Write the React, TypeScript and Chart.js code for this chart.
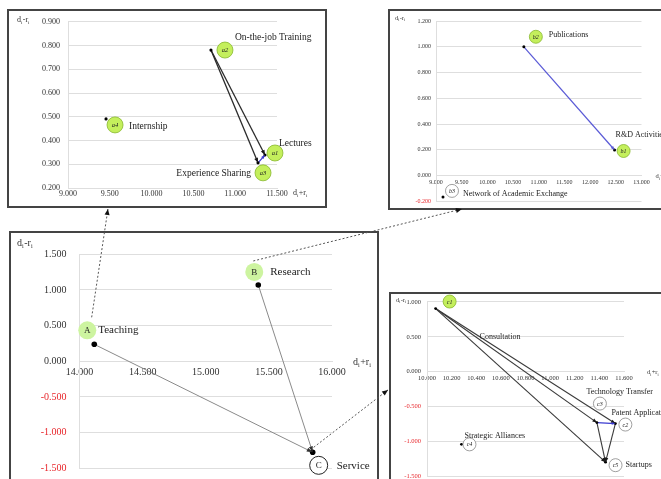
import React, { useEffect, useRef } from 'react';
import { Chart, registerables } from 'chart.js';

Chart.register(...registerables);

const FONT = "'Liberation Serif', 'Times New Roman', Times, serif";
const RED = '#e8262b';
const TICK = '#333333';
const GRID = '#dedede';

// ---------------- data ----------------
// Dimensions (main chart)
const dimCodes = ['A', 'B', 'C'];
const dimNames = ['Teaching', 'Research', 'Service'];
const dimSum = [14.117, 15.416, 15.847]; // d+r
const dimDiff = [0.238, 1.07, -1.276]; // d-r
const dimHighlight = [true, true, false];
const dimLinks = [[0, 2], [1, 2]];
const dimSumRange = [14, 16, 0.5];
const dimDiffRange = [-1.5, 1.5, 0.5];

// Teaching criteria
const teachCodes = ['a1', 'a2', 'a3', 'a4'];
const teachNames = ['Lectures', 'On-the-job Training', 'Experience Sharing', 'Internship'];
const teachSum = [11.356, 10.71, 11.273, 9.455];
const teachDiff = [0.339, 0.781, 0.306, 0.491];
const teachHighlight = [true, true, true, true];
const teachLinks = [[1, 0], [1, 2]];
const teachBlueLinks = [[2, 0]];
const teachSumRange = [9, 11.5, 0.5];
const teachDiffRange = [0.2, 0.9, 0.1];

// Research criteria
const researchCodes = ['b1', 'b2', 'b3'];
const researchNames = ['R&D Activities', 'Publications', 'Network of Academic Exchange'];
const researchSum = [12.476, 10.71, 9.136];
const researchDiff = [0.199, 1.0, -0.165];
const researchHighlight = [true, true, false];
const researchLinks: number[][] = [];
const researchBlueLinks = [[1, 0]];
const researchSumRange = [9, 13, 0.5];
const researchDiffRange = [-0.2, 1.2, 0.2];

// Service criteria
const serviceCodes = ['c1', 'c2', 'c3', 'c4', 'c5'];
const serviceNames = ['Consultation', 'Patent Application', 'Technology Transfer', 'Strategic Alliances', 'Startups'];
const serviceSum = [10.07, 11.53, 11.38, 10.28, 11.45];
const serviceDiff = [0.905, -0.742, -0.728, -1.04, -1.295];
const serviceHighlight = [true, false, false, false, false];
const serviceLinks = [[0, 2], [0, 1], [0, 4], [2, 4], [1, 4]];
const serviceBlueLinks = [[2, 1]];
const serviceSumRange = [10, 11.6, 0.2];
const serviceDiffRange = [-1.5, 1.0, 0.5];

// where the dashed connectors land on the detail panels (in their axis values)
const teachAnchorSum = 9.478;
const researchAnchorSum = 9.505;
const serviceAnchorDiff = -0.26;

// ---------------- layout / style ----------------
type Off = [number, number, number, number, string];

const TEACH = {
  key: 'teach',
  box: { left: 7, top: 9, width: 320, height: 199 },
  area: { top: 8, right: 270, bottom: 179, yWidth: 61 },
  xr: teachSumRange, yr: teachDiffRange, xAxisAt: teachDiffRange[0],
  tickSize: 8, xPad: 1, yPad: 8,
  codes: teachCodes, names: teachNames, xs: teachSum, ys: teachDiff, highlight: teachHighlight,
  links: teachLinks, blueLinks: teachBlueLinks,
  linkColor: '#2b2b2b', linkWidth: 1.3, headColor: '#1a1a1a', blueColor: '#3b3bd0', blueWidth: 1.2,
  arrowLen: 5, arrowW: 4, pointR: 1.6,
  circleR: 8, codeFont: `italic 6.5px ${FONT}`, nameFont: `9.5px ${FONT}`,
  hiFill: '#c4ef5c', hiStroke: '#86b82c', loStroke: '#888', strokeW: 0.8,
  offsets: [[10, -2, 14, -11, 'left'], [14, 0, 24, -13, 'left'], [5, 10, -7, 11, 'right'], [9, 6, 23, 8, 'left']] as Off[],
  titleSize: 8, yTitle: [10, 11], xTitle: [16, 5],
};

const RESEARCH = {
  key: 'research',
  box: { left: 388, top: 9, width: 300, height: 201 },
  area: { top: 12, right: 253.5, bottom: 194, yWidth: 48 },
  xr: researchSumRange, yr: researchDiffRange, xAxisAt: 0,
  tickSize: 6, xPad: 3, yPad: 5,
  codes: researchCodes, names: researchNames, xs: researchSum, ys: researchDiff, highlight: researchHighlight,
  links: researchLinks, blueLinks: researchBlueLinks,
  linkColor: '#2b2b2b', linkWidth: 1.2, headColor: '#1a1a1a', blueColor: '#5a5ad6', blueWidth: 1.2,
  arrowLen: 5, arrowW: 4, pointR: 1.5,
  circleR: 6.5, codeFont: `italic 6px ${FONT}`, nameFont: `8px ${FONT}`,
  hiFill: '#c4ef5c', hiStroke: '#86b82c', loStroke: '#888', strokeW: 0.8,
  offsets: [[9, 1, 1, -15, 'left'], [12, -10, 25, -12, 'left'], [9, -6, 20, -3, 'left']] as Off[],
  titleSize: 6.5, yTitle: [7, 9], xTitle: [14, 1],
};

const MAIN = {
  key: 'main',
  box: { left: 9, top: 231, width: 370, height: 260 },
  area: { top: 23.3, right: 323, bottom: 237.3, yWidth: 70.5 },
  xr: dimSumRange, yr: dimDiffRange, xAxisAt: 0,
  tickSize: 10, xPad: 5, yPad: 13,
  codes: dimCodes, names: dimNames, xs: dimSum, ys: dimDiff, highlight: dimHighlight,
  links: dimLinks, blueLinks: [] as number[][],
  linkColor: '#8a8a8a', linkWidth: 1, headColor: '#333', blueColor: '#3b3bd0', blueWidth: 1,
  arrowLen: 6, arrowW: 4, pointR: 2.8,
  circleR: 9, codeFont: `9px ${FONT}`, nameFont: `11px ${FONT}`,
  hiFill: '#cdf4a0', hiStroke: '', loStroke: '#222', strokeW: 1,
  offsets: [[-7, -14, 4, -14, 'left'], [-4, -13, 12, -13, 'left'], [6, 13, 24, 14, 'left']] as Off[],
  titleSize: 10, yTitle: [8, 12], xTitle: [21, 1],
};

const SERVICE = {
  key: 'service',
  box: { left: 389, top: 292, width: 300, height: 200 },
  area: { top: 8, right: 235, bottom: 184.5, yWidth: 38 },
  xr: serviceSumRange, yr: serviceDiffRange, xAxisAt: 0,
  tickSize: 6.5, xPad: 3, yPad: 6,
  codes: serviceCodes, names: serviceNames, xs: serviceSum, ys: serviceDiff, highlight: serviceHighlight,
  links: serviceLinks, blueLinks: serviceBlueLinks,
  linkColor: '#3a3a3a', linkWidth: 1.1, headColor: '#1a1a1a', blueColor: '#3b3bd0', blueWidth: 1.2,
  arrowLen: 4.5, arrowW: 3.5, pointR: 1.4,
  circleR: 6.5, codeFont: `italic 6px ${FONT}`, nameFont: `8px ${FONT}`,
  hiFill: '#c4ef5c', hiStroke: '#86b82c', loStroke: '#888', strokeW: 0.8,
  offsets: [[14, -7, 44, 28, 'left'], [10, 1, -4, -11, 'left'], [3, -19, -10.5, -31, 'left'], [8, 0, 3, -8, 'left'], [10, 3, 20, 3, 'left']] as Off[],
  titleSize: 6.5, yTitle: [7, 8], xTitle: [23, 1],
};

const PANELS = [TEACH, RESEARCH, MAIN, SERVICE];

function arrowHead(ctx: CanvasRenderingContext2D, x1: number, y1: number, x2: number, y2: number, len: number, w: number, color: string) {
  const a = Math.atan2(y2 - y1, x2 - x1);
  const c = Math.cos(a), s = Math.sin(a);
  const bx = x2 - len * c, by = y2 - len * s;
  ctx.beginPath();
  ctx.moveTo(x2, y2);
  ctx.lineTo(bx - (w / 2) * s, by + (w / 2) * c);
  ctx.lineTo(bx + (w / 2) * s, by - (w / 2) * c);
  ctx.closePath();
  ctx.fillStyle = color;
  ctx.fill();
}

function drawDR(ctx: CanvasRenderingContext2D, x: number, y: number, sign: string, size: number) {
  ctx.fillStyle = TICK;
  ctx.textAlign = 'left';
  ctx.textBaseline = 'middle';
  const big = `${size}px ${FONT}`;
  const small = `${size * 0.62}px ${FONT}`;
  let cx = x;
  ctx.font = big;
  ctx.fillText('d', cx, y);
  cx += ctx.measureText('d').width;
  ctx.font = small;
  ctx.fillText('i', cx, y + size * 0.3);
  cx += ctx.measureText('i').width + size * 0.05;
  ctx.font = big;
  ctx.fillText(sign + 'r', cx, y);
  cx += ctx.measureText(sign + 'r').width;
  ctx.font = small;
  ctx.fillText('i', cx, y + size * 0.3);
}

function decoPlugin(p: any) {
  return {
    id: 'deco_' + p.key,
    afterDatasetsDraw(chart: any) {
      const ctx: CanvasRenderingContext2D = chart.ctx;
      const sx = chart.scales.x, sy = chart.scales.y;
      const X = (i: number) => sx.getPixelForValue(p.xs[i]);
      const Y = (i: number) => sy.getPixelForValue(p.ys[i]);
      ctx.save();
      p.links.forEach(([a, b]: number[]) => arrowHead(ctx, X(a), Y(a), X(b), Y(b), p.arrowLen, p.arrowW, p.headColor));
      p.blueLinks.forEach(([a, b]: number[]) => arrowHead(ctx, X(a), Y(a), X(b), Y(b), p.arrowLen * 0.8, p.arrowW * 0.8, p.blueColor));
      p.codes.forEach((code: string, i: number) => {
        const [cx, cy, tx, ty, al] = p.offsets[i];
        const px = X(i), py = Y(i);
        ctx.beginPath();
        ctx.arc(px + cx, py + cy, p.circleR, 0, Math.PI * 2);
        ctx.fillStyle = p.highlight[i] ? p.hiFill : '#ffffff';
        ctx.fill();
        const st = p.highlight[i] ? p.hiStroke : p.loStroke;
        if (st) {
          ctx.strokeStyle = st;
          ctx.lineWidth = p.strokeW;
          ctx.stroke();
        }
        ctx.fillStyle = '#222';
        ctx.font = p.codeFont;
        ctx.textAlign = 'center';
        ctx.textBaseline = 'middle';
        ctx.fillText(code, px + cx, py + cy + 0.5);
        ctx.font = p.nameFont;
        ctx.textAlign = al as CanvasTextAlign;
        ctx.fillText(p.names[i], px + tx, py + ty);
      });
      const axisY = sy.getPixelForValue(p.xAxisAt);
      drawDR(ctx, p.yTitle[0], p.yTitle[1], '-', p.titleSize);
      drawDR(ctx, chart.chartArea.right + p.xTitle[0], axisY + p.xTitle[1], '+', p.titleSize);
      ctx.restore();
    },
  };
}

function makeChart(canvas: HTMLCanvasElement, p: any) {
  const pts = p.xs.map((x: number, i: number) => ({ x, y: p.ys[i] }));
  const linkDs = (links: number[][], color: string, width: number) =>
    links.map(([a, b]) => ({
      data: [pts[a], pts[b]],
      showLine: true,
      borderColor: color,
      borderWidth: width,
      pointRadius: 0,
      pointHoverRadius: 0,
      fill: false,
    }));
  const datasets = [
    { data: pts, pointRadius: p.pointR, pointBackgroundColor: '#000', pointBorderWidth: 0, showLine: false },
    ...linkDs(p.blueLinks, p.blueColor, p.blueWidth),
    ...linkDs(p.links, p.linkColor, p.linkWidth),
  ];
  const clean = (v: any) => {
    const n = Number(v);
    return Math.abs(n) < 1e-9 ? 0 : n;
  };
  const tickColor = (c: any) => (c.tick && clean(c.tick.value) < 0 ? RED : TICK);
  const fmt = (v: any) => clean(v).toFixed(3);
  const font = { family: FONT, size: p.tickSize };
  return new Chart(canvas, {
    type: 'scatter',
    data: { datasets } as any,
    options: {
      animation: false,
      responsive: false,
      maintainAspectRatio: false,
      devicePixelRatio: 1,
      events: [],
      layout: {
        padding: {
          left: 0,
          top: p.area.top,
          right: p.box.width - p.area.right,
          bottom: p.box.height - p.area.bottom,
        },
      },
      plugins: { legend: { display: false }, tooltip: { enabled: false } },
      scales: {
        x: {
          type: 'linear',
          min: p.xr[0],
          max: p.xr[1],
          position: { y: p.xAxisAt },
          ticks: { stepSize: p.xr[2], callback: fmt, font, color: tickColor, padding: p.xPad, maxRotation: 0, autoSkip: false },
          grid: { display: false, drawTicks: false },
          border: { display: true, color: GRID, width: 1 },
        },
        y: {
          type: 'linear',
          min: p.yr[0],
          max: p.yr[1],
          position: 'left',
          ticks: { stepSize: p.yr[2], callback: fmt, font, color: tickColor, padding: p.yPad, autoSkip: false },
          grid: { color: GRID, drawTicks: false, lineWidth: 1 },
          border: { display: true, color: GRID, width: 1 },
          afterFit: (s: any) => {
            s.width = p.area.yWidth;
          },
        },
      },
    } as any,
    plugins: [decoPlugin(p)],
  });
}

function drawOverlay(cv: HTMLCanvasElement, charts: any[]) {
  const ctx = cv.getContext('2d')!;
  ctx.clearRect(0, 0, cv.width, cv.height);
  const [cTeach, cRes, cMain, cServ] = charts;
  const mainPx = (i: number) => [
    MAIN.box.left + cMain.scales.x.getPixelForValue(dimSum[i]),
    MAIN.box.top + cMain.scales.y.getPixelForValue(dimDiff[i]),
  ];
  const conns = [
    {
      from: 0, off: [-2.6, -27],
      to: [TEACH.box.left + cTeach.scales.x.getPixelForValue(teachAnchorSum), TEACH.box.top + TEACH.box.height + 1],
    },
    {
      from: 1, off: [-5, -24],
      to: [RESEARCH.box.left + cRes.scales.x.getPixelForValue(researchAnchorSum), RESEARCH.box.top + RESEARCH.box.height - 1],
    },
    {
      from: 2, off: [1, -5],
      to: [SERVICE.box.left - 1, SERVICE.box.top + cServ.scales.y.getPixelForValue(serviceAnchorDiff)],
    },
  ];
  conns.forEach((c) => {
    const [px, py] = mainPx(c.from);
    const x1 = px + c.off[0], y1 = py + c.off[1];
    const [x2, y2] = c.to;
    ctx.save();
    ctx.setLineDash([2, 2]);
    ctx.strokeStyle = '#555';
    ctx.lineWidth = 1;
    ctx.beginPath();
    ctx.moveTo(x1, y1);
    ctx.lineTo(x2, y2);
    ctx.stroke();
    ctx.setLineDash([]);
    arrowHead(ctx, x1, y1, x2, y2, 6, 5, '#111');
    ctx.restore();
  });
}

export default function App() {
  const canvases = useRef<(HTMLCanvasElement | null)[]>([]);
  const overlayRef = useRef<HTMLCanvasElement | null>(null);

  useEffect(() => {
    const charts = PANELS.map((p, i) => makeChart(canvases.current[i]!, p));
    if (overlayRef.current) drawOverlay(overlayRef.current, charts);
    return () => {
      charts.forEach((c) => c.destroy());
    };
  }, []);

  return (
    <div style={{ position: 'fixed', left: 0, top: 0, width: 661, height: 479, overflow: 'hidden', background: '#fff' }}>
      {PANELS.map((p, i) => (
        <React.Fragment key={p.key}>
          <canvas
            ref={(el) => {
              canvases.current[i] = el;
            }}
            width={p.box.width}
            height={p.box.height}
            style={{ position: 'absolute', left: p.box.left, top: p.box.top, width: p.box.width, height: p.box.height }}
          />
          <div
            style={{
              position: 'absolute',
              left: p.box.left,
              top: p.box.top,
              width: p.box.width,
              height: p.box.height,
              border: '2px solid #444',
              boxSizing: 'border-box',
              pointerEvents: 'none',
            }}
          />
        </React.Fragment>
      ))}
      <canvas
        ref={overlayRef}
        width={661}
        height={479}
        style={{ position: 'absolute', left: 0, top: 0, width: 661, height: 479, pointerEvents: 'none' }}
      />
    </div>
  );
}
